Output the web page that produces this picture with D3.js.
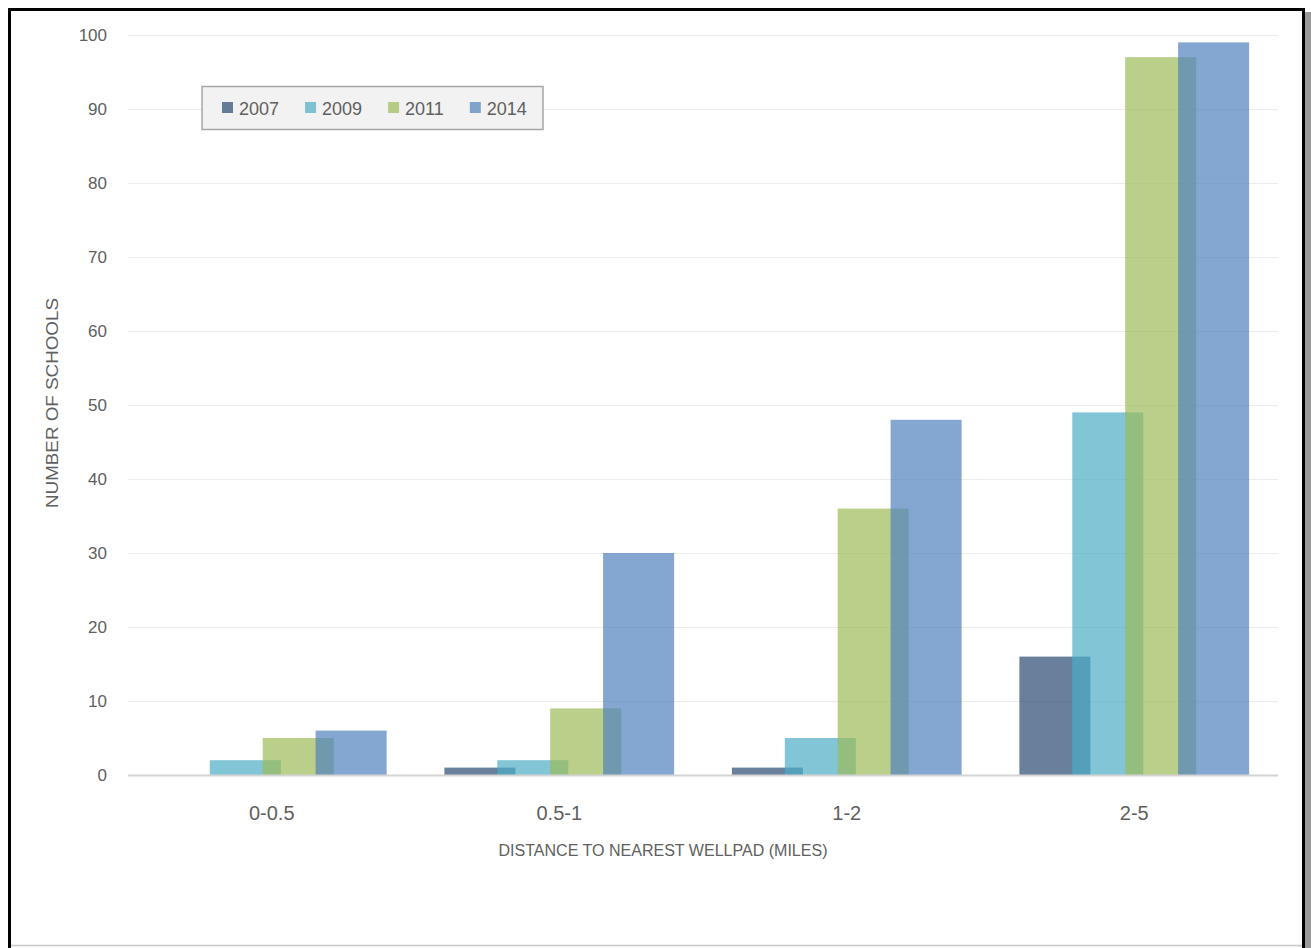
<!DOCTYPE html>
<html>
<head>
<meta charset="utf-8">
<script src="https://cdn.jsdelivr.net/npm/d3@7"></script>
<style>
  html, body { margin: 0; padding: 0; background: #ffffff; }
  svg { display: block; }
</style>
</head>
<body>
<svg id="chart" width="1311" height="948"></svg>
<script>
// Schools by distance to nearest wellpad, per survey year
const categories = ["0-0.5", "0.5-1", "1-2", "2-5"];
const years = ["2007", "2009", "2011", "2014"];
const values2007 = [0, 1, 1, 16];
const values2009 = [2, 2, 5, 49];
const values2011 = [5, 9, 36, 97];
const values2014 = [6, 30, 48, 99];
const yTicks = [0, 10, 20, 30, 40, 50, 60, 70, 80, 90, 100];
const seriesColors = ["#2A4A73", "#4BACC6", "#9BBB59", "#4F81BD"];

const series = years.map((y, i) => ({
  year: y,
  color: seriesColors[i],
  values: [values2007, values2009, values2011, values2014][i]
}));

const svg = d3.select("#chart");
const labelColor = "#606060";

// outer frame with drop shadow on the right
svg.append("rect").attr("x", 1305).attr("y", 12).attr("width", 6).attr("height", 936).attr("fill", "#9a9a9a");
svg.append("rect").attr("x", 9.5).attr("y", 9.5).attr("width", 1294).attr("height", 950)
  .attr("fill", "#ffffff").attr("stroke", "#000000").attr("stroke-width", 3);
svg.append("line").attr("x1", 11).attr("x2", 1302).attr("y1", 945.5).attr("y2", 945.5)
  .attr("stroke", "#c8c8c8").attr("stroke-width", 1.5);

const x0 = 128, x1 = 1278, yTop = 35, yBase = 775;

const x = d3.scaleBand().domain(categories).range([x0, x1]).padding(0);
const y = d3.scaleLinear().domain([0, 100]).range([yBase, yTop]);

// bars inside each category overlap: step is smaller than the bar width
const barW = x.bandwidth() * 0.247;
const step = x.bandwidth() * 0.184;
const groupW = step * (years.length - 1) + barW;
const pad = (x.bandwidth() - groupW) / 2;

// horizontal gridlines
svg.append("g").selectAll("line").data(yTicks.filter(t => t > 0)).join("line")
  .attr("x1", x0).attr("x2", x1)
  .attr("y1", d => Math.round(y(d)) + 0.5).attr("y2", d => Math.round(y(d)) + 0.5)
  .attr("stroke", "#ececec").attr("stroke-width", 1);

// y axis tick labels
const yAxis = d3.axisLeft(y).tickValues(yTicks).tickSize(0).tickPadding(0);
const gy = svg.append("g").attr("transform", "translate(107,0)").call(yAxis);
gy.select(".domain").remove();
gy.selectAll("text")
  .attr("font-family", "'Liberation Sans', Arial, sans-serif")
  .attr("font-size", 17).attr("fill", labelColor).attr("dy", "0.35em");

// bars
series.forEach((s, si) => {
  svg.append("g").selectAll("rect").data(s.values).join("rect")
    .attr("x", (d, i) => x(categories[i]) + pad + si * step)
    .attr("width", barW)
    .attr("y", d => y(d))
    .attr("height", d => y(0) - y(d))
    .attr("fill", s.color)
    .attr("fill-opacity", 0.7);
});

// baseline
svg.append("line").attr("x1", x0).attr("x2", x1).attr("y1", yBase + 0.5).attr("y2", yBase + 0.5)
  .attr("stroke", "#d4d4d4").attr("stroke-width", 2);

// x axis category labels
const xAxis = d3.axisBottom(x).tickSize(0).tickPadding(0);
const gx = svg.append("g").attr("transform", `translate(0,${yBase})`).call(xAxis);
gx.select(".domain").remove();
gx.selectAll("text")
  .attr("font-family", "'Liberation Sans', Arial, sans-serif")
  .attr("font-size", 20).attr("fill", labelColor).attr("y", 45).attr("dy", 0);

// axis titles
svg.append("text").attr("x", 663).attr("y", 856)
  .attr("text-anchor", "middle")
  .attr("font-family", "'Liberation Sans', Arial, sans-serif")
  .attr("font-size", 16).attr("fill", labelColor)
  .attr("textLength", 329).attr("lengthAdjust", "spacingAndGlyphs")
  .text("DISTANCE TO NEAREST WELLPAD (MILES)");

svg.append("text")
  .attr("transform", "translate(58,403) rotate(-90)")
  .attr("text-anchor", "middle")
  .attr("font-family", "'Liberation Sans', Arial, sans-serif")
  .attr("font-size", 16).attr("fill", labelColor)
  .attr("textLength", 210).attr("lengthAdjust", "spacingAndGlyphs")
  .text("NUMBER OF SCHOOLS");

// legend
const legend = svg.append("g");
legend.append("rect").attr("x", 202).attr("y", 86.5).attr("width", 341).attr("height", 43)
  .attr("fill", "#f2f2f2").attr("stroke", "#a6a6a6").attr("stroke-width", 1.5);
let lx = 222;
series.forEach(s => {
  legend.append("rect").attr("x", lx).attr("y", 102).attr("width", 11).attr("height", 11)
    .attr("fill", s.color).attr("fill-opacity", 0.7);
  const t = legend.append("text").attr("x", lx + 17).attr("y", 114.5)
    .attr("font-family", "'Liberation Sans', Arial, sans-serif")
    .attr("font-size", 18).attr("fill", labelColor).text(s.year);
  lx += 17 + t.node().getComputedTextLength() + 26;
});
</script>
</body>
</html>
